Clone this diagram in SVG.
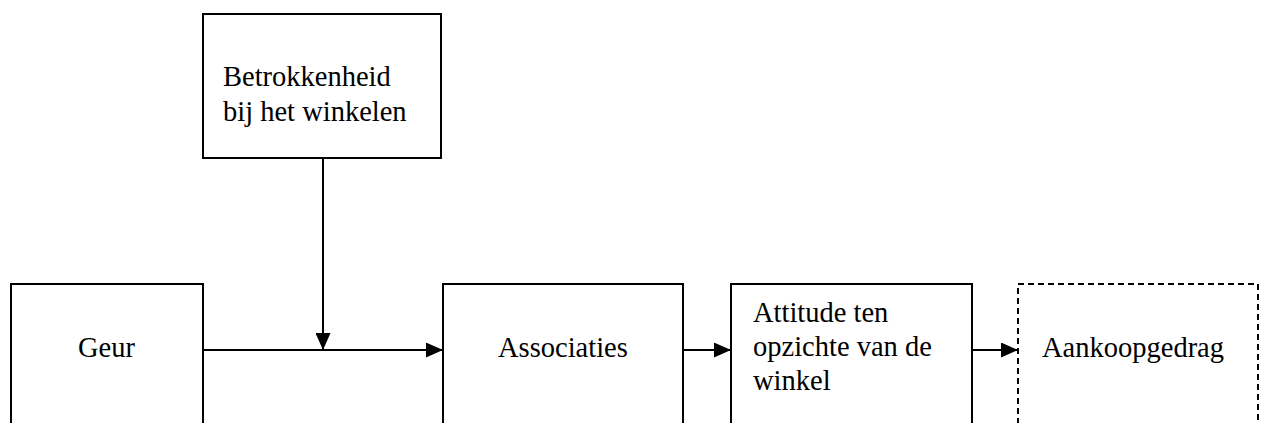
<svg xmlns="http://www.w3.org/2000/svg" width="1261" height="423" viewBox="0 0 1261 423">
<style>
.box{fill:#fff;stroke:#000;stroke-width:2}
.dash{stroke-dasharray:6,4}
.t{font-family:"Liberation Serif","Times New Roman",serif;font-size:28.5px;fill:#000}
.c{stroke:#000;stroke-width:2;fill:none}
</style>
<defs>
<marker id="ah" viewBox="0 0 17 15" refX="17" refY="7.5" markerWidth="17" markerHeight="15" markerUnits="userSpaceOnUse" orient="auto">
<path d="M0,0 L17,7.5 L0,15 Z" fill="#000"/>
</marker>
</defs>
<rect width="1261" height="423" fill="#fff"/>
<g id="betrokkenheid">
<rect class="box" x="203" y="14" width="238" height="144"/>
<text class="t" x="223" y="86">Betrokkenheid</text>
<text class="t" x="223" y="121">bij het winkelen</text>
</g>
<g id="geur">
<rect class="box" x="11" y="284" width="192" height="160"/>
<text class="t" x="78" y="357">Geur</text>
</g>
<g id="associaties">
<rect class="box" x="443" y="284" width="240" height="160"/>
<text class="t" x="498" y="357">Associaties</text>
</g>
<g id="attitude">
<rect class="box" x="731" y="284" width="241" height="160"/>
<text class="t" x="753" y="322">Attitude ten</text>
<text class="t" x="753" y="356">opzichte van de</text>
<text class="t" x="753" y="390">winkel</text>
</g>
<g id="aankoopgedrag">
<rect class="box dash" x="1018" y="284" width="240" height="160"/>
<text class="t" x="1042" y="357">Aankoopgedrag</text>
</g>
<g id="connectors">
<line class="c" x1="203" y1="350" x2="443" y2="350" marker-end="url(#ah)"/>
<line class="c" x1="323" y1="158" x2="323" y2="350" marker-end="url(#ah)"/>
<line class="c" x1="683" y1="350" x2="731" y2="350" marker-end="url(#ah)"/>
<line class="c" x1="972" y1="350" x2="1018" y2="350" marker-end="url(#ah)"/>
</g>
</svg>
